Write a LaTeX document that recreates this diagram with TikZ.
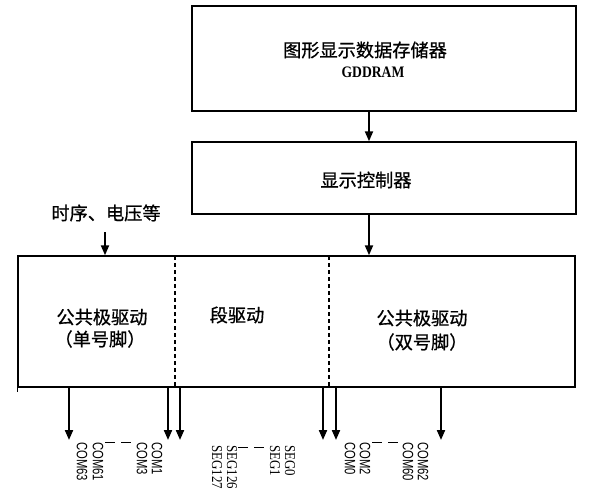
\documentclass[tikz,border=0pt]{standalone}
\usepackage{fontspec}
\setmainfont{Liberation Serif}
\newfontfamily\cjk[FakeBold=0.8]{Noto Sans CJK SC}
\newfontfamily\lsans{Liberation Sans}
\usetikzlibrary{arrows.meta}
\tikzset{
  blockbox/.style={draw, line width=1.4pt, rectangle, inner sep=0pt},
  cjklabel/.style={font=\cjk\fontsize{18.2}{21}\selectfont, inner sep=0pt},
  arr/.style={line width=2pt, -{Triangle[length=10pt,width=8pt]}},
  divline/.style={line width=1.2pt, dash pattern=on 4pt off 3pt},
  pinlabel/.style={rotate=-90, anchor=west, inner sep=0pt, font=\lsans\fontsize{15}{16}\selectfont},
  seglabel/.style={rotate=-90, anchor=west, inner sep=0pt, font=\fontsize{15}{16}\selectfont},
  gap/.style={line width=0.9pt, dash pattern=on 10pt off 6pt}
}
\newcommand{\pinnarrow}[1]{\scalebox{0.75}[1]{#1}}
\newcommand{\segnarrow}[1]{\scalebox{0.86}[1]{#1}}
\begin{document}
\begin{tikzpicture}[x=1pt,y=-1pt]
\useasboundingbox (0,0) rectangle (592,500);
% boxes
\node[blockbox, minimum width=384pt, minimum height=105pt] (ram) at (384,58.5) {};
\node[blockbox, minimum width=384pt, minimum height=72pt] (ctrl) at (384,178) {};
\node[blockbox, minimum width=557pt, minimum height=131pt] (drv) at (296.5,321.5) {};
\draw[line width=1.4pt] (drv.south west) -- ++(0,4);
% texts
\node[cjklabel] (t1) at (365,50) {图形显示数据存储器};
\node[inner sep=0pt, font=\bfseries\fontsize{16}{17}\selectfont] (t2) at (373,72) {\scalebox{0.85}[1]{GDDRAM}};
\node[cjklabel] (t3) at (366,180) {显示控制器};
\node[cjklabel] (t4) at (106,213) {时序、电压等};
\node[cjklabel] (l1) at (102,317) {公共极驱动};
\node[cjklabel] (l2) at (100,339) {（单号脚）};
\node[cjklabel] (m1) at (237,315) {段驱动};
\node[cjklabel] (r1) at (422,318) {公共极驱动};
\node[cjklabel] (r2) at (422,342) {（双号脚）};
% dividers
\coordinate (d1t) at (175,256); \coordinate (d1b) at (175,387);
\coordinate (d2t) at (329,256); \coordinate (d2b) at (329,387);
\draw[divline] (d1t) -- (d1b);
\draw[divline] (d2t) -- (d2b);
% arrows between blocks
\draw[arr] (ram.south -| 369,0) -- (ctrl.north -| 369,0);
\draw[arr] (ctrl.south -| 369,0) -- (drv.north -| 369,0);
\coordinate (tin) at (105,232);
\draw[arr] (tin) -- (drv.north -| tin);
% output arrows
\foreach \x/\n in {69/a,168/b,180/c,323/d,336/e,441/f}{
  \coordinate (o\n) at (\x,440);
  \draw[arr] (drv.south -| o\n) -- (o\n);
}
% pin labels
\node[pinlabel] (c63) at (82,442) {\pinnarrow{COM63}};
\node[pinlabel] (c61) at (98,442) {\pinnarrow{COM61}};
\node[pinlabel] (c3) at (142,442) {\pinnarrow{COM3}};
\node[pinlabel] (c1) at (157,442) {\pinnarrow{COM1}};
\node[seglabel] (s127) at (217,445) {\segnarrow{SEG127}};
\node[seglabel] (s126) at (232,445) {\segnarrow{SEG126}};
\node[seglabel] (s1) at (275,445) {\segnarrow{SEG1}};
\node[seglabel] (s0) at (290,445) {\segnarrow{SEG0}};
\node[pinlabel] (c0) at (350,442) {\pinnarrow{COM0}};
\node[pinlabel] (c2) at (365,442) {\pinnarrow{COM2}};
\node[pinlabel] (c60) at (408,442) {\pinnarrow{COM60}};
\node[pinlabel] (c62) at (423,442) {\pinnarrow{COM62}};
% ellipsis dashes
\coordinate (g1a) at (105,442); \coordinate (g1b) at (132,442);
\coordinate (g2a) at (238,447); \coordinate (g2b) at (265,447);
\coordinate (g3a) at (372,442); \coordinate (g3b) at (398,442);
\draw[gap] (g1a) -- (g1b);
\draw[gap] (g2a) -- (g2b);
\draw[gap] (g3a) -- (g3b);
\end{tikzpicture}
\end{document}
